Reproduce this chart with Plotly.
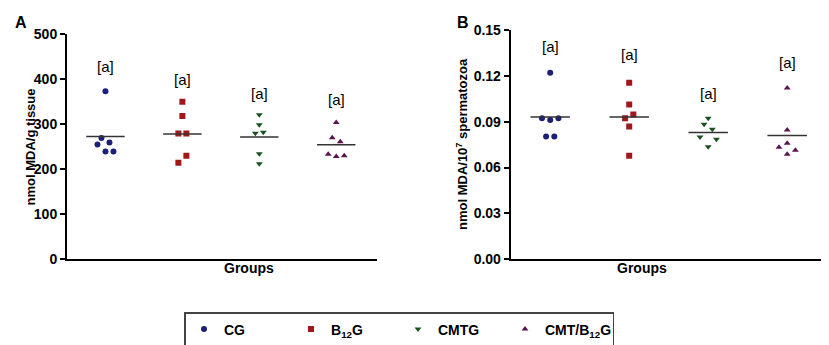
import numpy as np
import plotly.graph_objects as go

# page body has an 8px margin: figure is laid out in window pixels minus that offset
OFF = 8
WIN_W, WIN_H = 829, 345
W, H = WIN_W - OFF, WIN_H - OFF


def px(xw):
    return (xw - OFF) / W


def py(yw):
    return (WIN_H - yw) / H


groups = ["CG", "B<sub>12</sub>G", "CMTG", "CMT/B<sub>12</sub>G"]
colors = ["#1b1f78", "#a3161b", "#17531f", "#5b1452"]
symbols = ["circle", "square", "triangle-down", "triangle-up"]

# Panel A: nmol MDA/g tissue
a_cg = [373, 269, 259, 255, 239, 239]
a_b12 = [350, 318, 279, 279, 230, 214]
a_cmt = [321, 299, 282, 280, 234, 212]
a_cmtb12 = [304, 270, 261, 233, 230, 228]
a_label_y = [429, 400, 369, 356]

# Panel B: nmol MDA/10^7 spermatozoa
b_cg = [0.1220, 0.0922, 0.0911, 0.0922, 0.0804, 0.0804]
b_b12 = [0.1155, 0.1012, 0.0948, 0.0922, 0.0868, 0.0678]
b_cmt = [0.0922, 0.0883, 0.0850, 0.0800, 0.0785, 0.0737]
b_cmtb12 = [0.1120, 0.0846, 0.0759, 0.0733, 0.0713, 0.0687]
b_label_y = [0.1393, 0.1343, 0.1086, 0.1289]

a_ticks = [0, 100, 200, 300, 400, 500]
b_ticks = [0.00, 0.03, 0.06, 0.09, 0.12, 0.15]

# horizontal scatter (jitter) offsets, in marker steps
a_jit = [[0, -1, 1, -2, 0, 2], [0, 0, -1, 1, 1, -1], [0, 0, 1, -1, 0, 0], [0, -1, 1, -2, 2, 0]]
b_jit = [[0, -2, 0, 2, -1, 1], [0, 0, 1, -1, 0, 0], [0, -1, 1, -2, 2, 0], [0, 0, 0, -2, 2, 0]]
STEP = 0.052
HALF = 0.25

A = [a_cg, a_b12, a_cmt, a_cmtb12]
B = [b_cg, b_b12, b_cmt, b_cmtb12]

FAM = "Liberation Sans, Arial, sans-serif"

fig = go.Figure()
for panel, (data, jit, xa, ya) in enumerate([(A, a_jit, "x", "y"), (B, b_jit, "x2", "y2")]):
    for i, vals in enumerate(data):
        xs = [i + j * STEP for j in jit[i]]
        fig.add_trace(go.Scatter(
            x=xs, y=vals, mode="markers", xaxis=xa, yaxis=ya,
            marker=dict(symbol=symbols[i], color=colors[i], size=6, line=dict(width=0)),
            name=groups[i], legendgroup=groups[i], showlegend=(panel == 0)))
        m = float(np.mean(vals))
        fig.add_trace(go.Scatter(
            x=[i - HALF, i + HALF], y=[m, m], mode="lines", xaxis=xa, yaxis=ya,
            line=dict(color="#333333", width=1.5), showlegend=False, hoverinfo="skip"))

tickfont = dict(family=FAM, size=14, color="black", weight="bold")
axis_common = dict(showline=True, linecolor="black", linewidth=2, showgrid=False, zeroline=False)
fig.update_layout(
    width=W, height=H, margin=dict(l=0, r=0, t=0, b=0, autoexpand=False),
    paper_bgcolor="white", plot_bgcolor="white",
    font=dict(family=FAM, color="black"),
    xaxis=dict(domain=[px(67), px(377)], range=[-0.5, 3.53], showticklabels=False, ticks="", **axis_common),
    yaxis=dict(domain=[py(259), py(34.3)], range=[0, 500], tickvals=a_ticks,
               ticks="outside", ticklen=5, tickwidth=2, tickcolor="black",
               tickfont=tickfont, tickformat="d", **axis_common),
    xaxis2=dict(domain=[px(510.7), min(1.0, px(826.7))], range=[-0.5, 3.5], showticklabels=False, ticks="",
                anchor="y2", **axis_common),
    yaxis2=dict(domain=[py(259.3), py(30)], range=[0, 0.15], tickvals=b_ticks,
                ticks="outside", ticklen=5, tickwidth=2, tickcolor="black", anchor="x2",
                tickfont=tickfont, tickformat=".2f", **axis_common),
    legend=dict(orientation="h", x=px(184), xanchor="left", y=py(312), yanchor="top",
                bordercolor="#444444", borderwidth=1.5, bgcolor="white",
                font=dict(family=FAM, size=14, color="black", weight="bold"),
                entrywidth=62, tracegroupgap=0),
)

ann = []
for i in range(4):
    ann.append(dict(x=i, y=a_label_y[i], xref="x", yref="y", text="[a]", showarrow=False,
                    font=dict(size=15, color="black")))
    ann.append(dict(x=i, y=b_label_y[i], xref="x2", yref="y2", text="[a]", showarrow=False,
                    font=dict(size=15, color="black")))
ann += [
    dict(x=px(20), y=py(147), xref="paper", yref="paper", text="<b>nmol MDA/g tissue</b>",
         textangle=-90, showarrow=False, font=dict(size=13)),
    dict(x=px(461.5), y=py(144.5), xref="paper", yref="paper",
         text="<b>nmol MDA/10<sup>7</sup> spermatozoa</b>", textangle=-90, showarrow=False, font=dict(size=13)),
    dict(x=px(222), y=py(278), xref="paper", yref="paper", text="<b>Groups</b>",
         showarrow=False, font=dict(size=14)),
    dict(x=px(668.5), y=py(278), xref="paper", yref="paper", text="<b>Groups</b>",
         showarrow=False, font=dict(size=14)),
    dict(x=px(13), y=py(12.5), xref="paper", yref="paper", text="<b>A</b>", xanchor="left",
         showarrow=False, font=dict(size=16)),
    dict(x=px(455), y=py(12.5), xref="paper", yref="paper", text="<b>B</b>", xanchor="left",
         showarrow=False, font=dict(size=16)),
]
fig.update_layout(annotations=ann)
fig.write_html("out.html")
